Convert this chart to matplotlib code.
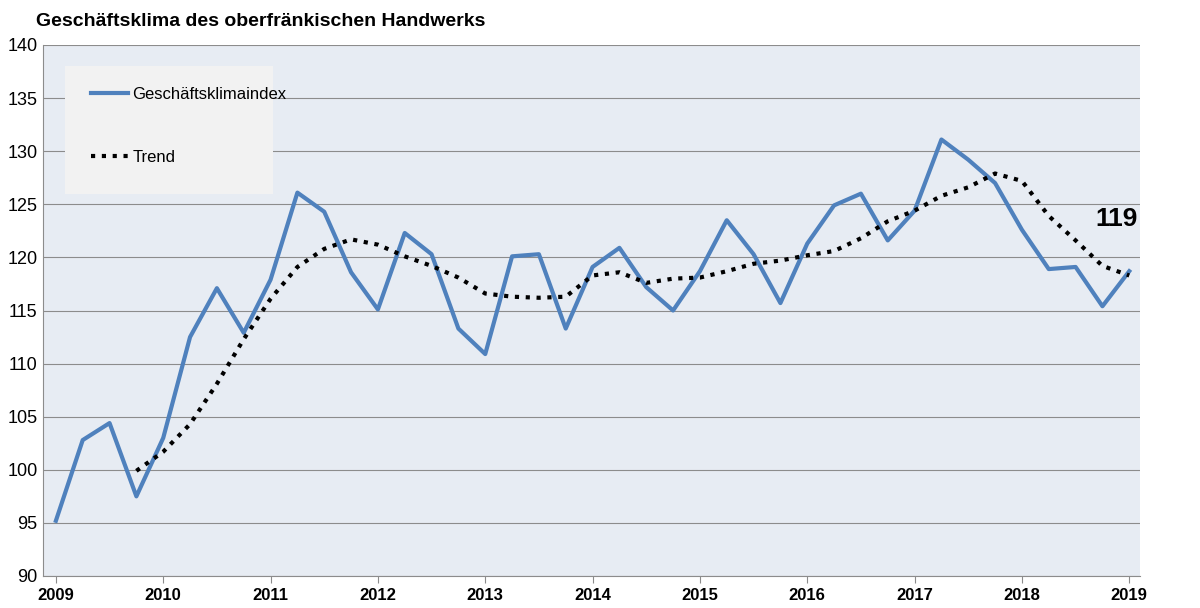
import numpy as np
import matplotlib
matplotlib.use("Agg")
import matplotlib.pyplot as plt
from matplotlib.patches import Rectangle

plt.rcParams["font.family"] = "Liberation Sans"

# quarterly values 2009 Q1 .. 2019 Q1
klima = [95.2, 102.8, 104.4, 97.5, 103.0, 112.5, 117.1, 112.9,
         117.9, 126.1, 124.3, 118.6, 115.1, 122.3, 120.3, 113.3,
         110.9, 120.1, 120.3, 113.3, 119.1, 120.9, 117.2, 115.0,
         118.7, 123.5, 120.3, 115.7, 121.3, 124.9, 126.0, 121.6,
         124.4, 131.1, 129.2, 127.0, 122.6, 118.9, 119.1, 115.4, 118.7]
# trend from 2009 Q4
trend = [99.9, 101.7, 104.3, 108.1, 112.3, 116.1, 119.1, 120.8, 121.7,
         121.2, 120.1, 119.2, 118.1, 116.6, 116.3, 116.2, 116.3, 118.3,
         118.6, 117.6, 118.0, 118.1, 118.7, 119.4, 119.7, 120.2, 120.6,
         121.8, 123.4, 124.4, 125.8, 126.6, 127.9, 127.2, 123.9, 121.6,
         119.2, 118.3]
years = list(range(2009, 2020))

x = 2009 + 0.25 * np.arange(len(klima))
xt = x[3:]

fig = plt.figure(figsize=(12, 6.08), dpi=100)
ax = fig.add_axes([43 / 1200, 1 - 576 / 608, 1097 / 1200, 531 / 608])
ax.set_facecolor("#E7ECF3")
ax.plot(x, klima, color="#4F81BD", lw=3, label="Geschäftsklimaindex", zorder=3)
ax.plot(xt, trend, color="black", lw=3, ls=(0, (1, 1.6)), label="Trend", zorder=4)

ax.set_xlim(2008.88, 2019.1)
ax.set_ylim(90, 140)
ax.set_yticks(range(90, 141, 5))
ax.set_xticks(years)
ax.grid(axis="y", color="#8C8C8C", lw=0.8)
ax.set_axisbelow(True)
for s in ["top", "right"]:
    ax.spines[s].set_visible(False)
ax.spines["left"].set_color("#8C8C8C")
ax.spines["bottom"].set_color("#8C8C8C")
ax.tick_params(axis="y", labelsize=13, length=0, pad=4)
ax.tick_params(axis="x", labelsize=12, length=5, color="#8C8C8C")
for t in ax.get_xticklabels():
    t.set_fontweight("bold")

ax.add_patch(Rectangle((0.02, 0.72), 0.19, 0.24, transform=ax.transAxes,
                       facecolor="#F2F2F2", edgecolor="none", zorder=5))
ax.legend(loc="upper left", bbox_to_anchor=(0.03, 0.95), frameon=False,
          fontsize=12, handlelength=2.2, labelspacing=2.9, handletextpad=0.3).set_zorder(6)

ax.text(2019.08, 122.5, "119", fontsize=19, fontweight="bold", ha="right", va="bottom")
fig.text(0.03, 0.965, "Geschäftsklima des oberfränkischen Handwerks",
         fontsize=14, fontweight="bold", va="center")

fig.savefig("out.png", dpi=100)
